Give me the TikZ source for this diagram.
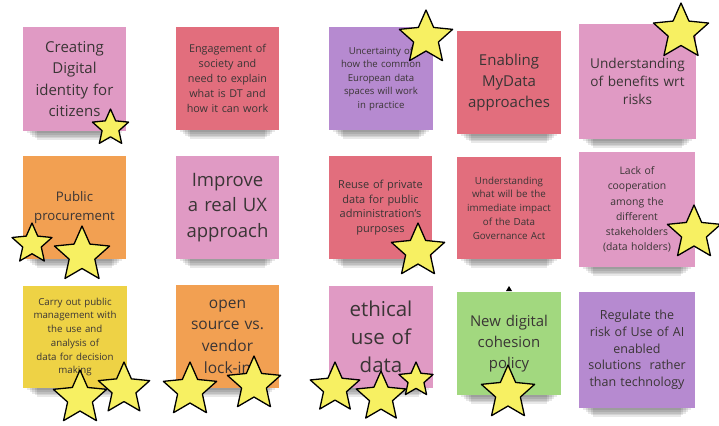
\documentclass[tikz,border=0pt]{standalone}
\usepackage{fontspec}
\setmainfont{Open Sans}
\usetikzlibrary{shapes.geometric}
\definecolor{pinkN}{HTML}{E09AC4}
\definecolor{redN}{HTML}{E26E7D}
\definecolor{purpleN}{HTML}{B68AD0}
\definecolor{orangeN}{HTML}{F2A052}
\definecolor{yellowN}{HTML}{EED245}
\definecolor{greenN}{HTML}{A2D87F}
\definecolor{starY}{HTML}{F7F062}
\definecolor{txt}{HTML}{3A3535}
\pgfdeclarelayer{bg}
\pgfsetlayers{bg,main}
\newcommand\fsz[2]{\fontsize{#1}{#2}\selectfont}
\tikzset{
  note/.style={rectangle, inner sep=0pt, align=center, text=txt},
  shade band/.style={fill=black, opacity=0.09},
  vote/.style={star, star points=5, star point ratio=2.15, inner sep=0pt,
    draw=black, line width=1.3pt, fill=starY, line join=round}
}
\begin{document}
\begin{tikzpicture}[x=1pt,y=-1pt]
\useasboundingbox (0,0) rectangle (719,425);
% row 1
\node[note, fill=pinkN, minimum width=103, minimum height=104, text width=100, font=\fsz{15}{21.5}] (n1) at (74.5,79) {Creating\\Digital\\identity for\\citizens};
\node[note, fill=redN, minimum width=103, minimum height=103, text width=100, font=\fsz{10.8}{15.2}] (n2) at (227.5,78.5) {Engagement of\\society and\\need to explain\\what is DT and\\how it can work};
\node[note, fill=purpleN, minimum width=104, minimum height=103, text width=100, font=\fsz{9.6}{13.5}] (n3) at (381,78.5) {Uncertainty of\\how the common\\European data\\spaces will work\\in practice};
\node[note, fill=redN, minimum width=104, minimum height=103, text width=100, font=\fsz{15}{20.7}] (n4) at (509,82.5) {Enabling\\MyData\\approaches};
\node[note, fill=pinkN, minimum width=117, minimum height=115, text width=112, font=\fsz{13.6}{18.3}] (n5) at (637.5,81.5) {Understanding\\of benefits wrt\\risks};
% row 2
\node[note, fill=orangeN, minimum width=103, minimum height=103, text width=100, font=\fsz{13.2}{18.3}] (n6) at (74.5,207.5) {Public\\procurement};
\node[note, fill=pinkN, minimum width=103, minimum height=103, text width=100, font=\fsz{18.5}{25.3}] (n7) at (227.5,207.5) {Improve\\a real UX\\approach};
\node[note, fill=redN, minimum width=103, minimum height=103, text width=100, font=\fsz{11}{14.7}] (n8) at (380.5,207.5) {Reuse of private\\data for public\\administration's\\purposes};
\node[note, fill=redN, minimum width=104, minimum height=102, text width=100, font=\fsz{9.8}{13.7}] (n9) at (509,208) {Understanding\\what will be the\\immediate impact\\of the Data\\Governance Act};
\node[note, fill=pinkN, minimum width=116, minimum height=115, text width=112, font=\fsz{10.4}{15.3}] (n10) at (637,209.5) {Lack of\\cooperation\\among the\\different\\stakeholders\\(data holders)};
% row 3
\node[note, fill=yellowN, minimum width=104, minimum height=102, text width=100, font=\fsz{9.7}{13.7}] (n11) at (75,337) {Carry out public\\management with\\the use and\\analysis of\\data for decision\\making};
\node[note, fill=orangeN, minimum width=103, minimum height=103, text width=100, font=\fsz{15.5}{21.6}] (n12) at (227.5,336.5) {open\\source vs.\\vendor\\lock-in};
\node[note, fill=pinkN, minimum width=104, minimum height=102, text width=100, font=\fsz{20.5}{28.3}] (n13) at (381,337) {ethical\\use of\\data};
\node[note, fill=greenN, minimum width=104, minimum height=103, text width=100, font=\fsz{14.9}{21}] (n14) at (509,343.5) {New digital\\cohesion\\policy};
\node[note, fill=purpleN, minimum width=116, minimum height=116, text width=112, font=\fsz{12.5}{16.7}] (n15) at (637,350) {Regulate the\\risk of Use of AI\\enabled\\solutions\ \ rather\\than technology};
% background and shadows under the notes
\begin{pgfonlayer}{bg}
\fill[white] (0,0) rectangle (719,425);
\foreach \n in {n1,n2,n3,n4,n5,n6,n7,n8,n9,n10,n11,n12,n13,n14,n15}{
  \foreach \k in {1,...,5}{
    \fill[shade band] ([xshift={2pt+2.5pt*\k}, yshift={-1.8pt*\k}]\n.south west) rectangle ([xshift={-2pt-2.5pt*\k}, yshift=-20pt]\n.north east);
  }
}
\end{pgfonlayer}
% small mark above green note
\fill[black] (506,291) -- (512,291) -- (509,286) -- cycle;
% stars
\node[vote, minimum size=38] (s1) at (110.5,128) {};
\node[vote, minimum size=56] (s2) at (426,38) {};
\node[vote, minimum size=58] (s3) at (681,32) {};
\node[vote, minimum size=42] (s4) at (32,244) {};
\node[vote, minimum size=58] (s5) at (82,255) {};
\node[vote, minimum size=56] (s6) at (418,251) {};
\node[vote, minimum size=56] (s7) at (694,233) {};
\node[vote, minimum size=56] (s8) at (80,398) {};
\node[vote, minimum size=54] (s9) at (124,389) {};
\node[vote, minimum size=56] (s10) at (190,390) {};
\node[vote, minimum size=56] (s11) at (254,384) {};
\node[vote, minimum size=52] (s12) at (335,388) {};
\node[vote, minimum size=52] (s13) at (381,397) {};
\node[vote, minimum size=36] (s14) at (416,380) {};
\node[vote, minimum size=56] (s15) at (508,393) {};
\end{tikzpicture}
\end{document}
